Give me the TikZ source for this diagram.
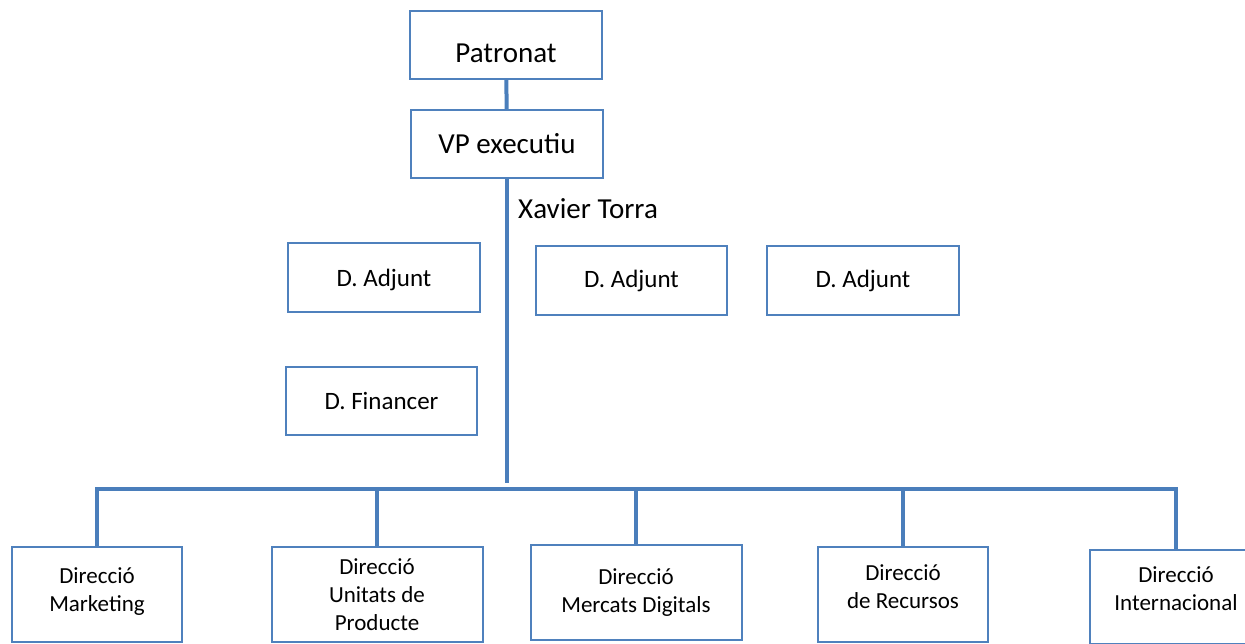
\documentclass[tikz,border=0pt]{standalone}
\usepackage{fontspec}
\setmainfont{Carlito}
\definecolor{boxblue}{RGB}{79,129,189}
\definecolor{linkblue}{RGB}{74,126,187}

\begin{document}
\begin{tikzpicture}[x=1pt, y=-1pt,
        box/.style={draw=boxblue, line width=2pt, align=center, inner sep=0pt},
        link/.style={draw=linkblue, line width=4pt},
        big/.style={font=\fontsize{29}{34}\selectfont},
        mid/.style={font=\fontsize{25}{30}\selectfont},
        small/.style={font=\fontsize{23}{28}\selectfont}]
        \useasboundingbox (0,0) rectangle (1245,644);

        \node[box, big, minimum width=192pt, minimum height=68pt, text height=36pt, text depth=0pt] (T1) at (506,45) {Patronat};
        \node[box, big, minimum width=192pt, minimum height=68pt] (T2) at (507,144) {VP executiu};
        \node[big, anchor=base west, inner sep=0pt] (X) at (518,219) {Xavier Torra};

        \node[box, mid, minimum width=192pt, minimum height=69pt, text depth=0pt] (D1) at (384,277.5) {D. Adjunt};
        \node[box, mid, minimum width=191pt, minimum height=69pt] (D2) at (631.5,280.5) {D. Adjunt};
        \node[box, mid, minimum width=192pt, minimum height=69pt] (D3) at (863,280.5) {D. Adjunt};
        \node[box, mid, minimum width=191pt, minimum height=68pt, text depth=0pt] (D4) at (381.5,401) {D. Financer};

        \node[box, small, minimum width=170pt, minimum height=95pt, text depth=10pt] (M1) at (97,594.5) {Direcció\\Marketing};
        \node[box, small, minimum width=211pt, minimum height=95pt] (M2) at (377,594.5) {Direcció\\Unitats de\\Producte};
        \node[box, small, minimum width=211pt, minimum height=95pt] (M3) at (636,592.5) {Direcció\\Mercats Digitals};
        \node[box, small, minimum width=170pt, minimum height=95pt, text depth=16pt] (M4) at (903,594.5) {Direcció\\de Recursos};
        \node[box, small, minimum width=172pt, minimum height=94pt, text depth=16pt] (M5) at (1176,597) {Direcció\\Internacional};

        \coordinate (J) at (507,483);
        \coordinate (L) at (95,489);
        \coordinate (R) at (1178,489);

        \draw[link] (T1) -- (T2);
        \draw[link] (T2) -- (J);
        \draw[link] (L) -- (R);
        \draw[link] (M1) -- (M1 |- L);
        \draw[link] (M2) -- (M2 |- L);
        \draw[link] (M3) -- (M3 |- L);
        \draw[link] (M4) -- (M4 |- L);
        \draw[link] (M5) -- (M5 |- L);
    \end{tikzpicture}
\end{document}
